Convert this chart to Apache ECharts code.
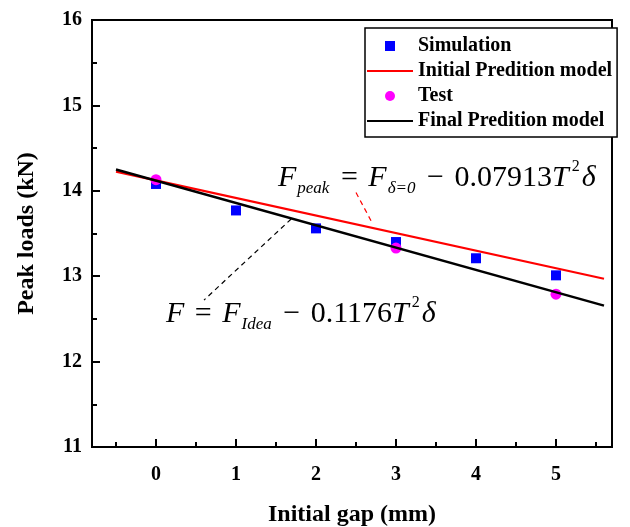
<!DOCTYPE html>
<html>
<head>
<meta charset="utf-8">
<script src="https://cdn.jsdelivr.net/npm/echarts@6/dist/echarts.min.js"></script>
<style>html,body{margin:0;padding:0;background:#fff}#c{width:630px;height:527px}</style>
</head>
<body>
<div id="c"></div>
<script>
// values
const gapTicks = [0, 1, 2, 3, 4, 5];
const gapMinor = [-0.5, 0.5, 1.5, 2.5, 3.5, 4.5, 5.5];
const simGap = [0, 1, 2, 3, 4, 5];
const simLoad = [14.08, 13.77, 13.56, 13.40, 13.21, 13.01];
const testGap = [0, 3, 5];
const testLoad = [14.13, 13.33, 12.79];
const fitGap = [-0.5, 5.6];
const initialFit = [14.224, 12.97];
const finalFit = [14.25, 12.655];
const redLeader = [[2.5, 13.98], [2.71, 13.61]];
const blackLeader = [[1.69, 13.67], [0.6, 12.72]];
const redEqAt = [1.525, 14.15];
const blackEqAt = [0.125, 12.56];

const serif = "'Liberation Serif','Times New Roman',serif";
const pairs = (xs, ys) => xs.map((x, i) => [x, ys[i]]);
const lineIcon = 'path://M0,0L46,0L46,2.2L0,2.2Z';
const squareIcon = 'path://M0,0L10,0L10,10L0,10Z';

const eqRich = {
  m: {fontFamily: serif, fontSize: 30, color: '#000', lineHeight: 38, verticalAlign: 'middle'},
  op: {fontFamily: serif, fontSize: 30, color: '#000', lineHeight: 38, verticalAlign: 'middle', padding: [0, 3]},
  i: {fontFamily: serif, fontStyle: 'italic', fontSize: 30, color: '#000', lineHeight: 38, verticalAlign: 'middle'},
  sub: {fontFamily: serif, fontStyle: 'italic', fontSize: 17, color: '#000', lineHeight: 16, verticalAlign: 'bottom', padding: [0, 1, 0, 1]},
  sup: {fontFamily: serif, fontSize: 16, color: '#000', lineHeight: 16, verticalAlign: 'top', padding: [0, 2, 0, 3]}
};
const redEq = '{i|F}{sub|peak}{op| = }{i|F}{sub|δ=0}{op| −}{m| 0.07913}{i|T}{sup|2}{i|δ}';
const blackEq = '{i|F}{op| = }{i|F}{sub|Idea}{op| −}{m| 0.1176}{i|T}{sup|2}{i|δ}';

const chart = echarts.init(document.getElementById('c'), null, {renderer: 'canvas'});
chart.setOption({
  backgroundColor: '#fff',
  animation: false,
  textStyle: {fontFamily: serif},
  grid: {left: 92, right: 18, top: 20, bottom: 80, outerBoundsMode: 'none', containLabel: false,
    show: true, borderColor: '#000', borderWidth: 2, backgroundColor: 'transparent'},
  legend: {
    orient: 'vertical', left: 365, top: 28,
    padding: [8, 5, 6, 2], itemGap: 5, itemWidth: 46, itemHeight: 10,
    borderColor: '#000', borderWidth: 1.5, backgroundColor: '#fff',
    textStyle: {fontFamily: serif, fontWeight: 'bold', fontSize: 20, color: '#000', lineHeight: 20},
    data: [
      {name: 'Simulation', icon: squareIcon},
      {name: 'Initial Predition model', icon: lineIcon},
      {name: 'Test', icon: 'circle'},
      {name: 'Final Predition model', icon: lineIcon}
    ]
  },
  xAxis: [{
    type: 'value', min: -0.8, max: 5.7,
    name: 'Initial gap (mm)', nameLocation: 'middle', nameGap: 56,
    nameTextStyle: {fontFamily: serif, fontWeight: 'bold', fontSize: 24, color: '#000'},
    axisLine: {onZero: false, lineStyle: {color: '#000', width: 2}},
    axisTick: {inside: true, length: 8, lineStyle: {color: '#000', width: 2}, customValues: gapTicks},
    axisLabel: {fontFamily: serif, fontWeight: 'bold', fontSize: 20, color: '#000', margin: 18, customValues: gapTicks},
    splitLine: {show: false}
  }, {
    type: 'value', min: -0.8, max: 5.7, position: 'bottom',
    axisLine: {show: false, onZero: false},
    axisTick: {inside: true, length: 5, lineStyle: {color: '#000', width: 2}, customValues: gapMinor},
    axisLabel: {show: false},
    splitLine: {show: false}
  }],
  yAxis: {
    type: 'value', min: 11, max: 16, interval: 1,
    name: 'Peak loads (kN)', nameLocation: 'middle', nameGap: 53,
    nameTextStyle: {fontFamily: serif, fontWeight: 'bold', fontSize: 24, color: '#000'},
    axisLine: {show: true, onZero: false, lineStyle: {color: '#000', width: 2}},
    axisTick: {inside: true, length: 8, lineStyle: {color: '#000', width: 2}},
    minorTick: {show: true, splitNumber: 2, length: 5, lineStyle: {color: '#000', width: 2}},
    axisLabel: {fontFamily: serif, fontWeight: 'bold', fontSize: 20, color: '#000', margin: 10},
    splitLine: {show: false}
  },
  series: [
    {name: 'Simulation', type: 'scatter', symbol: 'rect', symbolSize: 10, z: 2,
      itemStyle: {color: '#0000ff', opacity: 1}, data: pairs(simGap, simLoad)},
    {name: 'Initial Predition model', type: 'line', showSymbol: false, symbol: 'none', z: 4,
      lineStyle: {color: '#ff0000', width: 2.2}, itemStyle: {color: '#ff0000'}, data: pairs(fitGap, initialFit)},
    {name: 'Test', type: 'scatter', symbol: 'circle', symbolSize: 11, z: 3,
      itemStyle: {color: '#ff00ff', opacity: 1}, data: pairs(testGap, testLoad)},
    {name: 'Final Predition model', type: 'line', showSymbol: false, symbol: 'none', z: 5,
      lineStyle: {color: '#000', width: 2.5}, itemStyle: {color: '#000'}, data: pairs(fitGap, finalFit)},
    {name: 'notes', type: 'line', data: [], silent: true, z: 6,
      markLine: {
        symbol: 'none', silent: true, label: {show: false},
        data: [
          [{coord: redLeader[0], lineStyle: {color: '#ff0000', type: [5, 4], width: 1.2}}, {coord: redLeader[1]}],
          [{coord: blackLeader[0], lineStyle: {color: '#000', type: [5, 4], width: 1.2}}, {coord: blackLeader[1]}]
        ]
      },
      markPoint: {
        symbol: 'circle', symbolSize: 0, silent: true,
        label: {show: true, position: 'right', distance: 0, rich: eqRich},
        data: [
          {coord: redEqAt, label: {formatter: redEq}},
          {coord: blackEqAt, label: {formatter: blackEq}}
        ]
      }
    }
  ]
});
</script>
</body>
</html>
